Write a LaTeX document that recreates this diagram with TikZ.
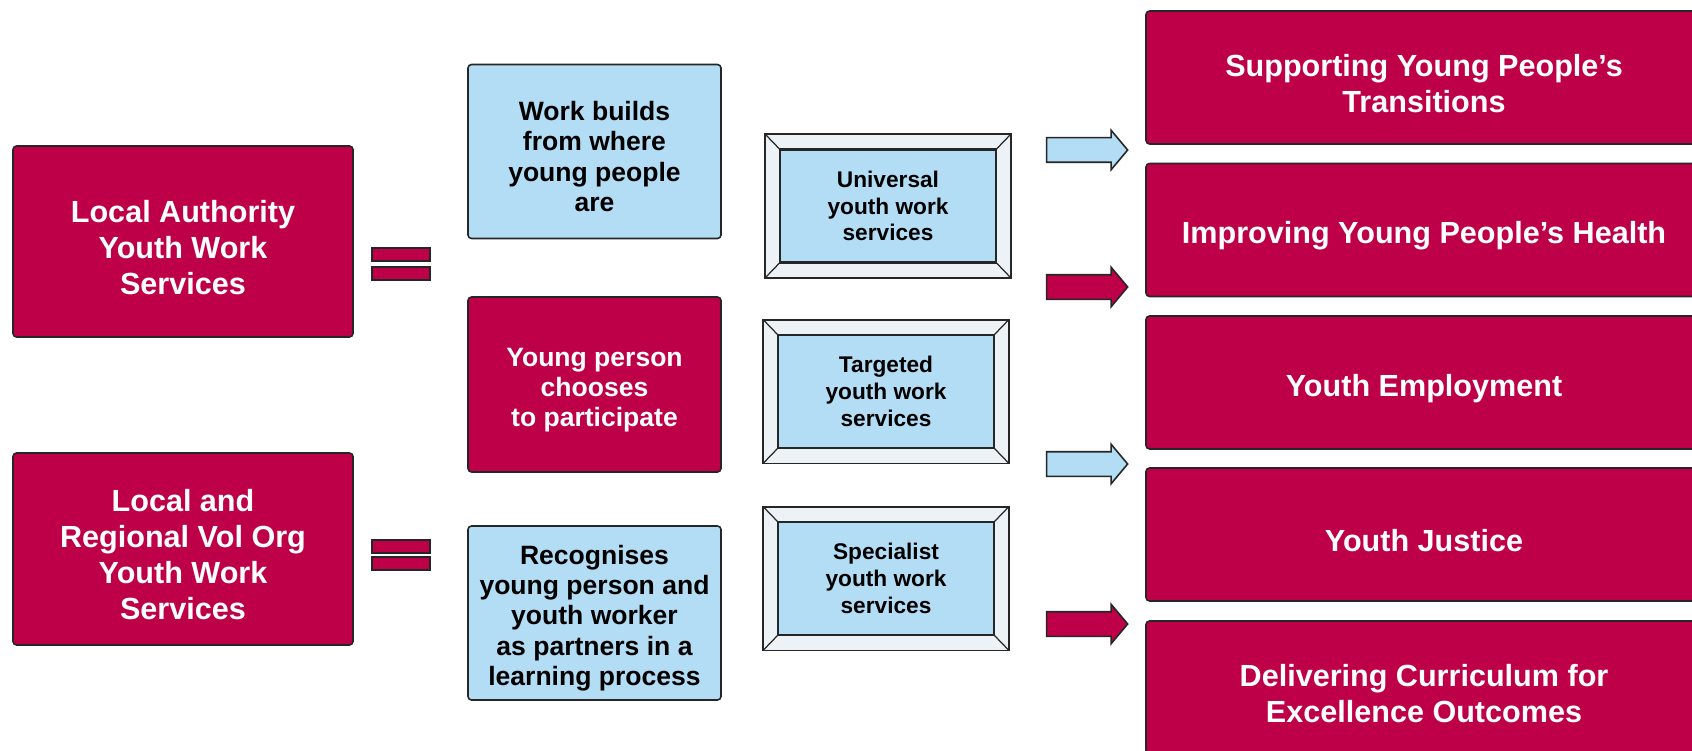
\documentclass[tikz,border=0pt]{standalone}
\usepackage{fontspec}
\setmainfont{Liberation Sans}
\usetikzlibrary{calc,shapes.arrows}

\definecolor{ywred}{RGB}{190,0,72}
\definecolor{ywblue}{RGB}{179,221,245}
\definecolor{ywframe}{RGB}{236,242,246}

% a taller first line sets the text a little low in its box
\newcommand{\toplift}{\rule{0pt}{1.1em}}

\begin{document}
\begin{tikzpicture}[
  redbox/.style={draw=black!85, line width=0.9pt, fill=ywred, text=white,
    rounded corners=2pt, align=center, inner sep=0pt,
    font=\bfseries\fontsize{17.4}{20.5}\selectfont},
  midbox/.style={draw=black!85, line width=0.9pt, rounded corners=2pt,
    align=center, inner sep=0pt, minimum width=5.06cm, minimum height=3.48cm,
    font=\bfseries\fontsize{15.1}{17.2}\selectfont},
  servbox/.style={draw=black!85, line width=0.9pt, fill=ywblue, align=center,
    inner sep=0pt, minimum width=4.3cm, minimum height=2.24cm,
    font=\bfseries\fontsize{12.9}{15.3}\selectfont},
  blockarrow/.style={shape=single arrow, draw=black!85, line width=0.9pt,
    inner xsep=0pt, inner ysep=0.23cm, minimum height=1.62cm,
    single arrow head extend=0.15cm, single arrow tip angle=100},
  eqbar/.style={draw=black!85, line width=0.9pt, fill=ywred, inner sep=0pt,
    minimum width=1.16cm, minimum height=0.27cm},
]
\clip (0,0) rectangle (33.84,15);

% providers on the left
\node[redbox, minimum width=6.8cm, minimum height=3.82cm] (la)  at (3.66,10.17)
  {\toplift Local Authority\\Youth Work\\Services};
\node[redbox, minimum width=6.8cm, minimum height=3.84cm] (vol) at (3.66,4.02)
  {\toplift Local and\\Regional Vol Org\\Youth Work\\Services};

% equals signs
\node[eqbar] (eqa1) at (8.02,9.91) {};
\node[eqbar] (eqa2) at (8.02,9.53) {};
\node[eqbar] (eqb1) at (8.02,4.07) {};
\node[eqbar] (eqb2) at (8.02,3.73) {};

% principles
\node[midbox, fill=ywblue] (where)   at (11.89,11.97)
  {\toplift Work builds\\from where\\young people\\are};
\node[midbox, fill=ywred, text=white, minimum height=3.5cm] (choose) at (11.89,7.31)
  {\toplift Young person\\chooses\\to participate};
\node[midbox, fill=ywblue] (partner) at (11.89,2.74)
  {\toplift Recognises\\young person and\\youth worker\\as partners in a\\learning process};

% framed service boxes
\node[servbox] (univ) at (17.76,10.88) {Universal\\youth work\\services};
\node[servbox] (targ) at (17.72,7.17)  {Targeted\\youth work\\services};
\node[servbox] (spec) at (17.72,3.43)  {Specialist\\youth work\\services};
\foreach \n in {univ,targ,spec} {
  \coordinate (o1) at ($(\n.north west)+(-0.29,0.3)$);
  \coordinate (o2) at ($(\n.north east)+(0.29,0.3)$);
  \coordinate (o3) at ($(\n.south east)+(0.29,-0.3)$);
  \coordinate (o4) at ($(\n.south west)+(-0.29,-0.3)$);
  \filldraw[fill=ywframe, draw=black!85, line width=0.9pt, even odd rule]
    (o1) -- (o2) -- (o3) -- (o4) -- cycle
    (\n.north west) -- (\n.north east) -- (\n.south east) -- (\n.south west) -- cycle;
  \draw[black!85, line width=0.7pt] (o1) -- (\n.north west) (o2) -- (\n.north east)
    (o3) -- (\n.south east) (o4) -- (\n.south west);
}

% block arrows
\node[blockarrow, fill=ywblue] (arr1) at (21.64,12.0) {};
\node[blockarrow, fill=ywred]  (arr2) at (21.64,9.26) {};
\node[blockarrow, fill=ywblue] (arr3) at (21.64,5.72) {};
\node[blockarrow, fill=ywred]  (arr4) at (21.64,2.52) {};

% outcomes on the right
\foreach \y/\name/\txt in {13.45/trans/{Supporting Young People's\\Transitions},
    10.40/health/{Improving Young People's Health},
    7.35/employ/{Youth Employment},
    4.31/justice/{Youth Justice},
    1.25/curric/{Delivering Curriculum for\\Excellence Outcomes}}
  \node[redbox, minimum width=11.12cm, minimum height=2.66cm] (\name) at (28.48,\y) {\toplift\txt};
\end{tikzpicture}
\end{document}
